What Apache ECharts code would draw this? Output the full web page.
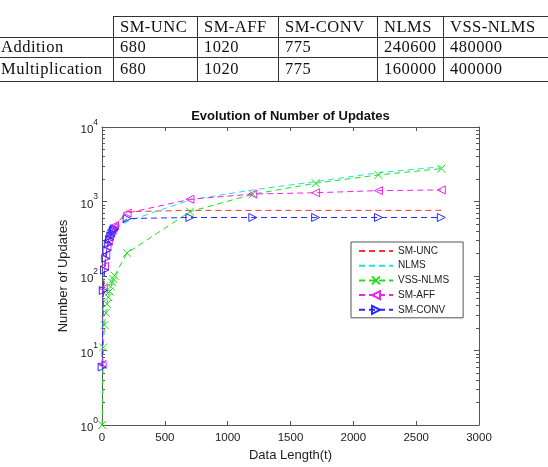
<!DOCTYPE html>
<html>
<head>
<meta charset="utf-8">
<script src="https://cdn.jsdelivr.net/npm/echarts@6/dist/echarts.min.js"></script>
<style>
  body { margin: 0; background: #fff; }
  #chart { position: absolute; left: 0; top: 0; width: 548px; height: 467px; }
  #table { position: absolute; left: 0; top: 0; width: 548px; height: 90px; overflow: hidden;
           font-family: 'Liberation Serif', serif; font-size: 16.5px; letter-spacing: 0.5px; color: #111; }
  .ln { position: absolute; background: #333; }
  .cell { position: absolute; white-space: nowrap; line-height: 20px; }
</style>
</head>
<body>
<div id="chart"></div>
<div id="table"></div>
<script>
  // table (complexity per iteration)
  const tableCols = ['SM-UNC', 'SM-AFF', 'SM-CONV', 'NLMS', 'VSS-NLMS']
  const rowNames = ['Addition', 'Multiplication']
  const additionOps = [680, 1020, 775, 240600, 480000]
  const multiplicationOps = [680, 1020, 775, 160000, 400000]

  // chart data
  const dataLength = [1, 10, 20, 30, 40, 50, 60, 70, 80, 90, 100, 200, 700, 1200, 1700, 2200, 2700]
  const smUnc = [6, 66, 125, 180, 235, 285, 330, 370, 410, 440, 470, 730, 760, 760, 760, 760, 760]
  const nlms = [6, 60, 110, 160, 205, 250, 290, 325, 360, 390, 420, 540, 1050, 1430, 1850, 2430, 2930]
  const vssNlms = [1, 11, 22, 32, 42, 52, 62, 72, 82, 91, 101, 204, 730, 1250, 1760, 2270, 2760]
  const smAff = [6.5, 68, 135, 190, 245, 290, 335, 375, 410, 445, 475, 700, 1070, 1260, 1310, 1400, 1430]
  const smConv = [6, 64, 120, 172, 222, 270, 310, 345, 378, 410, 430, 590, 610, 610, 610, 610, 610]
  const yMajor = [1, 10, 100, 1000, 10000]

  // ---- table ----
  const tbl = document.getElementById('table')
  const colX = [0, 113, 197, 278, 377, 443, 548]
  const rowY = [16, 37, 57, 81]
  function add(cls, css, text) {
    const d = document.createElement('div')
    d.className = cls
    Object.assign(d.style, css)
    if (text !== undefined) d.textContent = text
    tbl.appendChild(d)
  }
  add('ln', { left: '113px', top: '16px', width: '435px', height: '1px' })
  add('ln', { left: '0px', top: '37px', width: '548px', height: '1px' })
  add('ln', { left: '0px', top: '57px', width: '548px', height: '1px' })
  add('ln', { left: '0px', top: '81px', width: '548px', height: '1px' })
  colX.slice(1, 6).forEach(x => add('ln', { left: x + 'px', top: '16px', width: '1px', height: '66px' }))
  const rowsText = [[''].concat(tableCols), [rowNames[0]].concat(additionOps), [rowNames[1]].concat(multiplicationOps)]
  rowsText.forEach((row, r) => {
    const mid = (rowY[r] + rowY[r + 1]) / 2
    row.forEach((t, c) => {
      add('cell', { left: (c === 0 ? 1 : colX[c] + 7) + 'px', top: (mid - 10) + 'px' }, String(t))
    })
  })

  // ---- chart ----
  const myChart = echarts.init(document.getElementById('chart'))
  const font = "'Liberation Sans', Arial, sans-serif"
  const axisColor = '#555'
  const yMinor = []
  yMajor.slice(0, 4).forEach(d => { for (let k = 2; k <= 9; k++) yMinor.push(d * k) })

  function pairs(vals) {
    return dataLength.map((t, i) => [t, vals[i]])
  }
  function makeSeries(name, vals, color, symbol, rotate) {
    return {
      name,
      type: 'line',
      data: pairs(vals),
      symbol: symbol || 'none',
      symbolSize: 8,
      symbolRotate: rotate || 0,
      showSymbol: !!symbol,
      lineStyle: { color, width: 1, type: [6, 4] },
      // no marker -> zero border so the legend draws only the line
      itemStyle: { color: 'rgba(0,0,0,0)', borderColor: symbol ? color : 'rgba(0,0,0,0)', borderWidth: symbol ? 1 : 0 },
      emphasis: { disabled: true },
      animation: false,
      z: 3
    }
  }

  const hideAll = {
    axisLine: { show: false },
    axisLabel: { show: false },
    splitLine: { show: false }
  }

  const option = {
    backgroundColor: 'transparent',
    textStyle: { fontFamily: font },
    grid: { left: 102, right: 69, top: 127, bottom: 42 },
    legend: {
      orient: 'vertical',
      left: 351,
      top: 242,
      padding: [4, 14, 3, 7],
      itemWidth: 34,
      itemHeight: 10,
      itemGap: 4.7,
      itemTextGap: 4,
      borderColor: '#555',
      borderWidth: 1,
      backgroundColor: '#fff',
      textStyle: { fontSize: 10, color: '#222', fontFamily: font },
      data: ['SM-UNC', 'NLMS', 'VSS-NLMS', 'SM-AFF', 'SM-CONV']
    },
    xAxis: [
      {
        type: 'value',
        min: 0,
        max: 3000,
        interval: 500,
        name: 'Data Length(t)',
        nameLocation: 'middle',
        nameGap: 21,
        nameTextStyle: { fontSize: 13, color: '#222' },
        axisLine: { lineStyle: { color: axisColor } },
        axisTick: { inside: true, length: 4, lineStyle: { color: axisColor } },
        axisLabel: { fontSize: 11.5, color: '#222', margin: 7, formatter: v => String(v) },
        splitLine: { show: false }
      },
      {
        type: 'value',
        position: 'top',
        min: 0,
        max: 3000,
        interval: 500,
        name: 'Evolution of Number of Updates',
        nameLocation: 'middle',
        nameGap: 4,
        nameTextStyle: { fontSize: 13, fontWeight: 'bold', color: '#111', verticalAlign: 'bottom' },
        axisLine: { lineStyle: { color: axisColor } },
        axisTick: { inside: true, length: 4, lineStyle: { color: axisColor } },
        axisLabel: { show: false },
        splitLine: { show: false }
      }
    ],
    yAxis: [
      {
        type: 'log',
        logBase: 10,
        min: 1,
        max: 10000,
        name: 'Number of Updates',
        nameLocation: 'middle',
        nameGap: 28,
        nameTextStyle: { fontSize: 13, color: '#222' },
        axisLine: { lineStyle: { color: axisColor } },
        axisTick: { inside: true, length: 5, customValues: yMajor, lineStyle: { color: axisColor } },
        axisLabel: {
          customValues: yMajor,
          margin: 4,
          formatter: v => '{b|10}{s|' + Math.round(Math.log10(v)) + '}',
          rich: {
            b: { fontSize: 11.5, color: '#222', verticalAlign: 'bottom', lineHeight: 18, fontFamily: font },
            s: { fontSize: 8.5, color: '#222', verticalAlign: 'top', lineHeight: 18, fontFamily: font }
          }
        },
        splitLine: { show: false }
      },
      Object.assign({
        type: 'log', logBase: 10, min: 1, max: 10000, position: 'left',
        axisTick: { inside: true, length: 3, customValues: yMinor, lineStyle: { color: axisColor } }
      }, hideAll),
      {
        type: 'log', logBase: 10, min: 1, max: 10000, position: 'right',
        axisLine: { show: true, lineStyle: { color: axisColor } },
        axisTick: { inside: true, length: 5, customValues: yMajor, lineStyle: { color: axisColor } },
        axisLabel: { show: false },
        splitLine: { show: false }
      },
      Object.assign({
        type: 'log', logBase: 10, min: 1, max: 10000, position: 'right',
        axisTick: { inside: true, length: 3, customValues: yMinor, lineStyle: { color: axisColor } }
      }, hideAll)
    ],
    series: [
      makeSeries('SM-UNC', smUnc, '#ff3333'),
      makeSeries('NLMS', nlms, '#22e0e0'),
      makeSeries('VSS-NLMS', vssNlms, '#22dd22', 'path://M0,0L10,10M10,0L0,10'),
      makeSeries('SM-AFF', smAff, '#ee22ee', 'triangle', 90),
      makeSeries('SM-CONV', smConv, '#2a2aff', 'triangle', -90)
    ]
  }
  myChart.setOption(option)
</script>
</body>
</html>
